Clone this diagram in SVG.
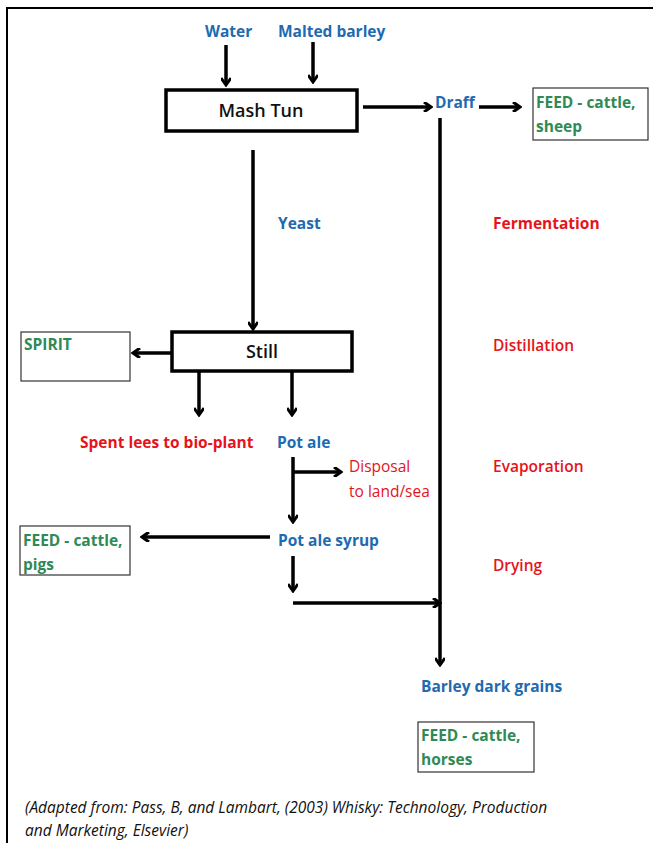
<svg xmlns="http://www.w3.org/2000/svg" width="653" height="843" viewBox="0 0 653 843">
<defs>
<marker id="ah" markerWidth="10" markerHeight="10" refX="7" refY="5" orient="auto" markerUnits="userSpaceOnUse" viewBox="0 0 10 10">
<path d="M1,0 L8,5 L1,10" fill="none" stroke="#000" stroke-width="3"/>
</marker>
<style>
.t{font-family:"Open Sans",Lato,sans-serif;font-size:15.5px;font-weight:bold}
.n{font-weight:600}
.d{font-weight:normal}
.b{fill:#1e6bb0}.r{fill:#e5141b}.g{fill:#2f8a55}
.box{fill:#fff;stroke:#000;stroke-width:3.5}
.fbox{fill:#fff;stroke:#333;stroke-width:1.2}
.c line{stroke:#000;stroke-width:3.5;fill:none;marker-end:url(#ah)}
.lbl{font-family:"Open Sans",Lato,sans-serif;font-size:18px;font-weight:600;fill:#111}
.cit{font-family:"Open Sans",Lato,sans-serif;font-size:15.5px;font-style:italic;fill:#111}
</style>
</defs>
<rect width="653" height="843" fill="#fff"/>
<path d="M7,843 V8 H653" fill="none" stroke="#000" stroke-width="2"/>

<g id="water"><text class="t b" x="205" y="37">Water</text></g>
<g id="malted-barley"><text class="t b" x="278" y="37">Malted barley</text></g>
<g id="mash-tun"><rect class="box" x="166" y="90" width="191" height="41"/><text class="lbl" x="261" y="117" text-anchor="middle">Mash Tun</text></g>
<g id="draff"><text class="t b" x="435" y="108" font-size="15">Draff</text></g>
<g id="feed-sheep"><rect class="fbox" x="533" y="88" width="115" height="52"/><text class="t g" x="536" y="108">FEED - cattle,</text><text class="t g" x="536" y="132">sheep</text></g>
<g id="yeast"><text class="t b" x="278" y="229">Yeast</text></g>
<g id="still"><rect class="box" x="172" y="332" width="180" height="39"/><text class="lbl" x="262" y="358" text-anchor="middle">Still</text></g>
<g id="spirit"><rect class="fbox" x="21" y="332" width="109" height="49"/><text class="t g" x="24" y="350">SPIRIT</text></g>
<g id="spent-lees"><text class="t r" x="80" y="448">Spent lees to bio-plant</text></g>
<g id="pot-ale"><text class="t b" x="277" y="448">Pot ale</text></g>
<g id="disposal"><text class="t r d" x="349" y="472">Disposal</text><text class="t r d" x="349" y="497">to land/sea</text></g>
<g id="pot-ale-syrup"><text class="t b" x="278" y="546">Pot ale syrup</text></g>
<g id="feed-pigs"><rect class="fbox" x="20" y="526" width="110" height="49"/><text class="t g" x="23" y="546">FEED - cattle,</text><text class="t g" x="23" y="570">pigs</text></g>
<g id="barley-dark-grains"><text class="t b" x="421" y="692">Barley dark grains</text></g>
<g id="feed-horses"><rect class="fbox" x="418" y="722" width="116" height="50"/><text class="t g" x="421" y="741">FEED - cattle,</text><text class="t g" x="421" y="765">horses</text></g>
<g id="fermentation"><text class="t r" x="493" y="229">Fermentation</text></g>
<g id="distillation"><text class="t r n" x="493" y="351">Distillation</text></g>
<g id="evaporation"><text class="t r n" x="493" y="472">Evaporation</text></g>
<g id="drying"><text class="t r n" x="493" y="571">Drying</text></g>
<g id="citation"><text class="cit" x="25" y="813">(Adapted from: Pass, B, and Lambart, (2003) Whisky: Technology, Production</text><text class="cit" x="25" y="836">and Marketing, Elsevier)</text></g>

<g id="connectors" class="c">
<line x1="226" y1="45" x2="226" y2="84"/>
<line x1="313" y1="42" x2="313" y2="81"/>
<line x1="363" y1="107" x2="430" y2="107"/>
<line x1="479" y1="107" x2="519" y2="107"/>
<line x1="440" y1="118" x2="440" y2="664"/>
<line x1="253" y1="150" x2="253" y2="328"/>
<line x1="172" y1="353" x2="134" y2="353"/>
<line x1="199" y1="371" x2="199" y2="414"/>
<line x1="292" y1="371" x2="292" y2="414"/>
<line x1="293" y1="457" x2="293" y2="521"/>
<line x1="293" y1="472" x2="340" y2="472"/>
<line x1="270" y1="537" x2="143" y2="537"/>
<line x1="293" y1="556" x2="293" y2="590"/>
<line x1="293" y1="603" x2="439" y2="603"/>
</g>
</svg>
